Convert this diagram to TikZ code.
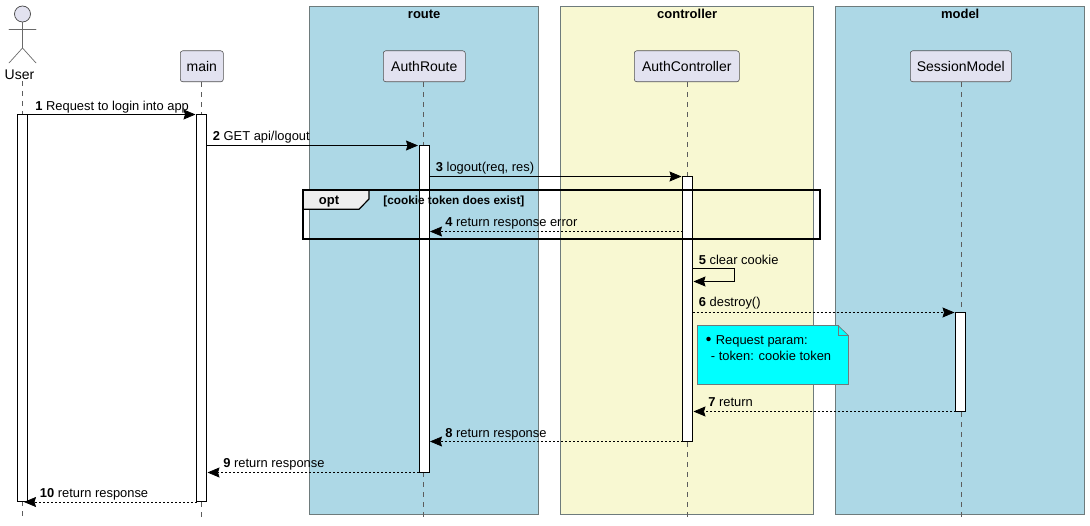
\documentclass[tikz,border=0pt]{standalone}
\usepackage{fontspec}
\setmainfont{Liberation Sans}
\usetikzlibrary{arrows.meta,calc}
\definecolor{partfill}{HTML}{E2E2F0}
\definecolor{partline}{HTML}{181818}
\definecolor{boxblue}{HTML}{ADD8E6}
\definecolor{boxyellow}{HTML}{F8F8D2}
\definecolor{boxline}{HTML}{6E7B7C}
\definecolor{notecyan}{HTML}{00FFFF}
\definecolor{tabgrey}{HTML}{EEEEEE}
\newcommand{\msg}[2]{\textbf{#1} #2}
\tikzset{
  x=1pt,y=-1pt,
  base font/.style={font=\fontsize{12.9}{15}\selectfont},
  head font/.style={font=\fontsize{14}{16}\selectfont},
  grp/.style={draw=boxline,line width=.7pt,minimum width=0pt},
  grptitle/.style={font=\fontsize{13}{15}\bfseries\selectfont,anchor=base,inner sep=0pt,text=black},
  part/.style={draw=partline!75,line width=.6pt,fill=partfill,rounded corners=2.5pt,inner sep=0pt,head font},
  life/.style={draw=partline!70,line width=.6pt,dash pattern=on 5pt off 5pt},
  actorline/.style={draw=partline!65,line width=.7pt,line cap=round},
  bar/.style={draw=black,line width=1pt,fill=white},
  lab/.style={base font,anchor=base west,inner sep=0pt,text=black},
  solidmsg/.style={draw=black,line width=.8pt,-{Stealth[length=12pt,width=10pt,inset=1.5pt]}},
  retmsg/.style={draw=black,line width=.7pt,dash pattern=on 2pt off 2pt,-{Stealth[length=12pt,width=10pt,inset=1.5pt]}},
}
\newcommand{\boxat}[6]{\node[grp,fill=#6,anchor=north west,minimum width=#4pt,minimum height=#5pt,inner sep=0pt] (#1) at (#2,#3) {};}
\newcommand{\headat}[6]{\node[part,anchor=north west,minimum width=#5pt,minimum height=#6pt] (#1) at (#3,#4) {#2};}
\newcommand{\barat}[5]{\node[bar,anchor=north west,minimum width=#4pt,minimum height=#5pt,inner sep=0pt,outer sep=0pt] (#1) at (#2,#3) {};}
\begin{document}
\begin{tikzpicture}
\useasboundingbox (0,0) rectangle (1090,526);
% groups
\boxat{route}{308.7}{6.5}{229}{507.5}{boxblue}
\boxat{controller}{559.7}{6.5}{253}{507.5}{boxyellow}
\boxat{model}{834.7}{6.5}{249}{507.5}{boxblue}
\node[grptitle] (routet) at (424.2,18.5) {route};
\node[grptitle] (controllert) at (687.2,18.5) {controller};
\node[grptitle] (modelt) at (960.2,18.5) {model};
% participants
\headat{main}{main}{180}{50.5}{43}{31}
\headat{authroute}{AuthRoute}{383}{50.5}{82}{31}
\headat{authctrl}{AuthController}{634}{50.5}{105}{31}
\headat{session}{SessionModel}{910}{50.5}{101}{31}
% actor
\node[draw=partline!80,line width=.7pt,fill=partfill,circle,minimum size=16pt,inner sep=0pt] (userhead) at (22.5,14) {};
\coordinate (userhip) at (22.5,48);
\coordinate (userarml) at (9,29);
\coordinate (userarmr) at (36,29);
\coordinate (userlegl) at (9,63);
\coordinate (userlegr) at (36,63);
\draw[actorline] (userhead.south) -- (userhip);
\draw[actorline] (userarml) -- (userarmr);
\draw[actorline] (userhip) -- (userlegl);
\draw[actorline] (userhip) -- (userlegr);
\node[head font,inner sep=0pt,anchor=base] (usertext) at (19.5,80) {User};
% lifeline ends
\coordinate (usertop) at (22.5,81);
\coordinate (userend) at (22.5,517);
\coordinate (mainend) at (201.5,517);
\coordinate (routeend) at (423.5,517);
\coordinate (ctrlend) at (687.5,517);
\coordinate (sessionend) at (961,517);
\draw[life] (usertop) -- (userend);
\draw[life] (main.south -| mainend) -- (mainend);
\draw[life] (authroute.south -| routeend) -- (routeend);
\draw[life] (authctrl.south -| ctrlend) -- (ctrlend);
\draw[life] (session.south -| sessionend) -- (sessionend);
% activation bars
\barat{baruser}{17.5}{114.5}{10}{387}
\barat{barmain}{196.5}{114.5}{10}{387}
\barat{barroute}{419}{145.5}{10}{327}
\barat{barctrl}{682.5}{176.5}{10}{265}
\barat{barsession}{955.5}{312.5}{10}{99}
% opt frame
\coordinate (optnw) at (303.2,190.3);
\coordinate (optse) at (820,239.4);
\coordinate (taba) at (369,190.3);
\coordinate (tabb) at (369,199);
\coordinate (tabc) at (359,209.3);
\coordinate (tabd) at (303.2,209.3);
\fill[tabgrey] (optnw) -- (taba) -- (tabb) -- (tabc) -- (tabd) -- cycle;
\draw[black,line width=1.2pt] (taba) -- (tabb) -- (tabc) -- (tabd);
\node[font=\fontsize{13}{15}\bfseries\selectfont,anchor=base west,inner sep=0pt] (opttext) at (318.7,205) {opt};
\node[font=\fontsize{11.8}{13}\bfseries\selectfont,anchor=base west,inner sep=0pt] (optcond) at (383.2,204.5) {[cookie token does exist]};
\draw[black,line width=1.8pt] (optnw) rectangle (optse);
% note
\coordinate (nnw) at (697.5,325.5);
\coordinate (nfa) at (838,325.5);
\coordinate (nfb) at (848.5,335.5);
\coordinate (nse) at (848.5,384.5);
\coordinate (nsw) at (697.5,384.5);
\coordinate (nfc) at (838,335.5);
\draw[fill=notecyan,draw=boxline,line width=.7pt] (nnw) -- (nfa) -- (nfb) -- (nse) -- (nsw) -- cycle;
\draw[draw=boxline,line width=.7pt] (nfa) -- (nfc) -- (nfb);
\node[fill=black,circle,minimum size=4.5pt,inner sep=0pt] (notebullet) at (708.5,339) {};
\node[lab] (notea) at (715.7,344.5) {Request param:};
\node[lab] (noteb) at (710.7,360.5) {- token: cookie token};
% message ends
\coordinate (m1a) at (27.5,114.5);
\coordinate (m1b) at (195.5,114.5);
\coordinate (m2a) at (206.5,145.5);
\coordinate (m2b) at (418,145.5);
\coordinate (m3a) at (429,176.5);
\coordinate (m3b) at (681.5,176.5);
\coordinate (m4a) at (682.5,231.5);
\coordinate (m4b) at (430,231.5);
\coordinate (m5a) at (692.5,268.5);
\coordinate (m5c) at (734.5,268.5);
\coordinate (m5d) at (734.5,281.5);
\coordinate (m5b) at (693.5,281.5);
\coordinate (m6a) at (692.5,312.5);
\coordinate (m6b) at (954.5,312.5);
\coordinate (m7a) at (955.5,411.5);
\coordinate (m7b) at (693.5,411.5);
\coordinate (m8a) at (682.5,441.5);
\coordinate (m8b) at (430,441.5);
\coordinate (m9a) at (419,472.5);
\coordinate (m9b) at (207.5,472.5);
\coordinate (m10a) at (196.5,502);
\coordinate (m10b) at (24,502);
\draw[solidmsg] (m1a) -- (m1b);
\draw[solidmsg] (m2a) -- (m2b);
\draw[solidmsg] (m3a) -- (m3b);
\draw[retmsg] (m4a) -- (m4b);
\draw[solidmsg] (m5a) -- (m5c) -- (m5d) -- (m5b);
\draw[retmsg] (m6a) -- (m6b);
\draw[retmsg] (m7a) -- (m7b);
\draw[retmsg] (m8a) -- (m8b);
\draw[retmsg] (m9a) -- (m9b);
\draw[retmsg] (m10a) -- (m10b);
% labels
\node[lab] (l1) at (35.2,110.5) {\msg{1}{Request to login into app}};
\node[lab] (l2) at (212.7,140.5) {\msg{2}{GET api/logout}};
\node[lab] (l3) at (435.7,171.5) {\msg{3}{logout(req, res)}};
\node[lab] (l4) at (445.2,227) {\msg{4}{return response error}};
\node[lab] (l5) at (698.7,264.5) {\msg{5}{clear cookie}};
\node[lab] (l6) at (698.7,307) {\msg{6}{destroy()}};
\node[lab] (l7) at (708.2,407) {\msg{7}{return}};
\node[lab] (l8) at (445.2,437.5) {\msg{8}{return response}};
\node[lab] (l9) at (223.2,467.5) {\msg{9}{return response}};
\node[lab] (l10) at (39.7,497.5) {\msg{10}{return response}};
\end{tikzpicture}
\end{document}
